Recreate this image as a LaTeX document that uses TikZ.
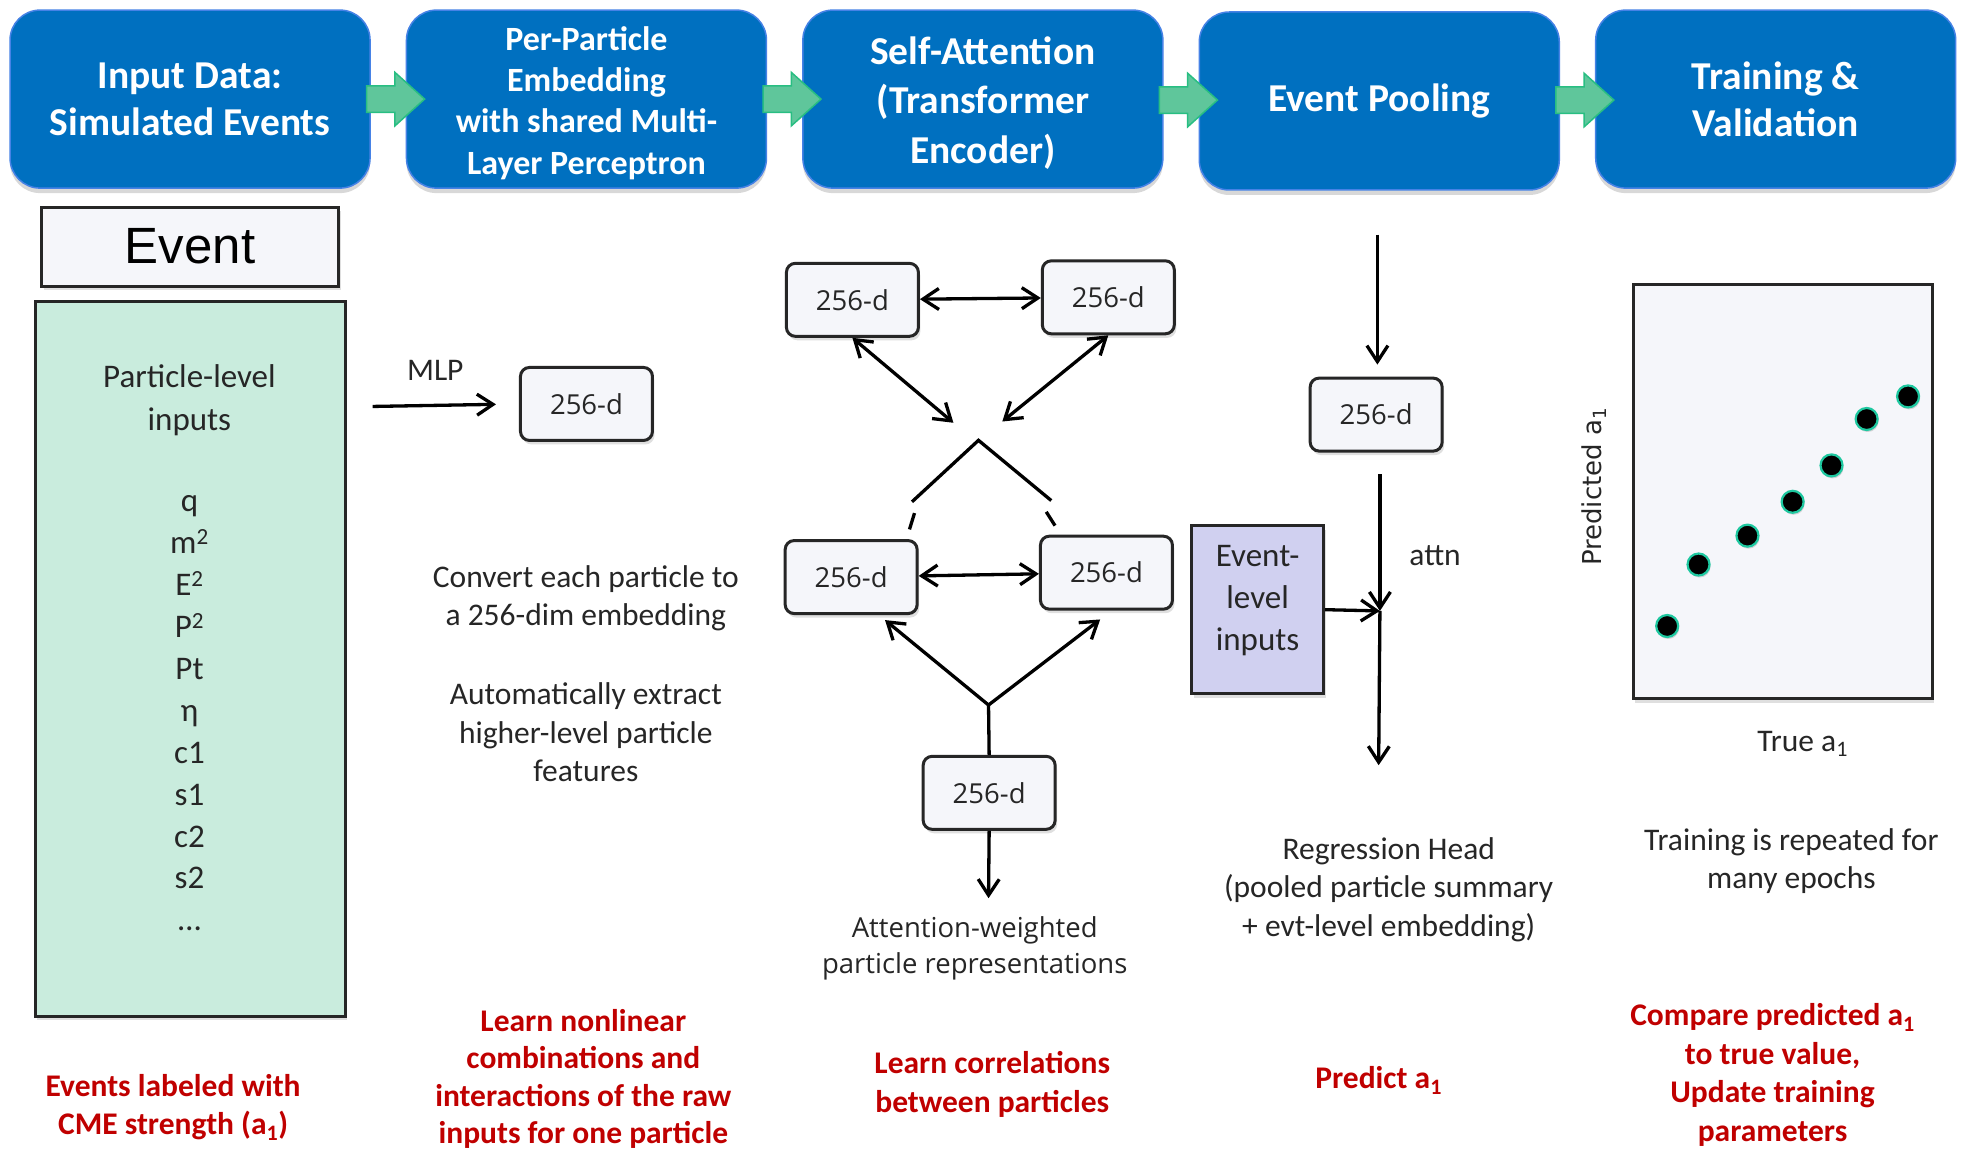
\documentclass[tikz,border=0pt]{standalone}
\usepackage{fontspec}
\setmainfont{Carlito}
\newfontfamily\boxfont{Open Sans}
\newfontfamily\arialfont{Liberation Sans}
\newfontfamily\axisfont{DejaVu Sans}
\usetikzlibrary{shadows,arrows.meta,shapes.arrows,calc}

\definecolor{hdrblue}{RGB}{0,112,192}
\definecolor{hdredge}{RGB}{70,130,230}
\definecolor{flowgreen}{RGB}{95,198,155}
\definecolor{flowedge}{RGB}{40,190,130}
\definecolor{mint}{RGB}{201,236,221}
\definecolor{paper}{RGB}{245,246,250}
\definecolor{lav}{RGB}{208,208,240}
\definecolor{redtxt}{RGB}{192,0,0}
\definecolor{txt}{RGB}{38,38,38}
\definecolor{dotedge}{RGB}{30,200,160}

\tikzset{
  hdrbox/.style={rectangle, rounded corners=30pt, fill=hdrblue, draw=hdredge,
    line width=1.5pt, minimum width=360pt, minimum height=178pt, text=white,
    align=center, font=\bfseries\fontsize{39.5}{47}\selectfont,
    drop shadow={opacity=0.3, shadow xshift=0pt, shadow yshift=-5pt}},
  hdrtext/.style={text=white, align=center},
  flow/.style={shape=single arrow, fill=flowgreen, draw=flowedge, line width=1.5pt,
    inner sep=0pt, inner ysep=12.5pt, minimum height=58pt,
    single arrow head extend=13.5pt, single arrow tip angle=84},
  papbox/.style={fill=paper, draw=black!85, line width=3pt,
    drop shadow={opacity=0.25, shadow xshift=2pt, shadow yshift=-4pt}},
  dimbox/.style={papbox, rounded corners=9pt, minimum width=132pt, minimum height=73pt,
    font=\boxfont\fontsize{27.5}{33}\selectfont, text=txt},
  body/.style={font=\fontsize{31.5}{38.5}\selectfont, text=txt, align=center},
  redlbl/.style={font=\bfseries\fontsize{31.5}{38.5}\selectfont, text=redtxt, align=center},
  plain/.style={line width=3.3pt},
  conn/.style={line width=3.3pt, -{Straight Barb[length=16pt,width=21pt]}},
  twoway/.style={line width=3.3pt, {Straight Barb[length=16pt,width=21pt]}-{Straight Barb[length=16pt,width=21pt]}},
  dot/.style={circle, fill=black, draw=dotedge, line width=2.2pt, minimum size=22pt, inner sep=0pt,
    drop shadow={opacity=0.3, shadow xshift=1pt, shadow yshift=-2pt}}
}

\begin{document}
\begin{tikzpicture}[x=1.2545pt, y=-1.2545pt]
\useasboundingbox (0,0) rectangle (1568,918);
\fill[white] (0,0) rectangle (1568,918);

% ---- pipeline stages ----
\node[hdrbox] (h1) at (151.5,79) {Input Data:\\Simulated Events};
\node[hdrbox] (h2) at (467.5,79) {};
\node[hdrtext, font=\bfseries\fontsize{34}{41.4}\selectfont] (h2txt) at (467.5,82)
  {Per-Particle\\Embedding\\with shared Multi-\\Layer Perceptron};
\node[hdrbox] (h3) at (783.5,79) {};
\node[hdrtext, font=\bfseries\fontsize{39.5}{49.5}\selectfont] (h3txt) at (783.5,82)
  {Self-Attention\\(Transformer\\Encoder)};
\node[hdrbox] (h4) at (1099.5,80.5) {Event Pooling};
\node[hdrbox] (h5) at (1415.5,79) {Training \&\\Validation};
\foreach \a/\b in {h1/h2,h2/h3,h3/h4,h4/h5}
  \node[flow] (f-\a) at ($(\a.east)!0.5!(\b.west)$) {};

% ---- column 1: input event ----
\node[papbox, minimum width=297pt, minimum height=79pt,
  font=\arialfont\fontsize{51}{60}\selectfont] (evhead) at (151.5,196.5) {Event};
\node[papbox, fill=mint, minimum width=310pt, minimum height=715pt] (inbox) at (151.5,525) {};
\node[body, font=\fontsize{33}{42.5}\selectfont] (inhead) at (151,319) {Particle-level\\inputs};
\foreach \t [count=\i] in {q, m\textsuperscript{2}, E\textsuperscript{2}, P\textsuperscript{2}, Pt, η, c1, s1, c2, s2, …}
  \node[body, font=\fontsize{33}{42}\selectfont, anchor=base] (var\i) at (151,408+33.4*\i-33.4) {\t};
\node[redlbl] (note1) at (138,882.5) {Events labeled with\\CME strength (a\textsubscript{1})};

% ---- column 2: per-particle embedding ----
\coordinate (mlpin) at (297,324);
\node[dimbox] (emb) at (467.5,322) {256-d};
\draw[conn, shorten >=23pt] (mlpin) -- (emb.west);
\node[body] (mlplbl) at (347,295) {MLP};
\node[body] (conv) at (467,477) {Convert each particle to\\a 256-dim embedding};
\node[body] (auto) at (467,584) {Automatically extract\\higher-level particle\\features};
\node[redlbl, font=\bfseries\fontsize{31.5}{37.6}\selectfont] (note2) at (465,860)
  {Learn nonlinear\\combinations and\\interactions of the raw\\inputs for one particle};

% ---- column 3: self-attention ----
\node[dimbox] (tl) at (679.5,239) {256-d};
\node[dimbox] (tr) at (883.5,237) {256-d};
\node[dimbox] (ml) at (678.5,460) {256-d};
\node[dimbox] (mr) at (882,456.5) {256-d};
\node[dimbox] (bt) at (788.5,632) {256-d};
\coordinate (cl) at (760,337);
\coordinate (cr) at (799,336);
\coordinate (pk) at (780,351);
\coordinate (pl) at (727,400);
\coordinate (pr) at (838,399);
\coordinate (dl1) at (729,409);
\coordinate (dl2) at (725,422);
\coordinate (dr1) at (834,408);
\coordinate (dr2) at (841,419);
\coordinate (vt) at (788,562);
\coordinate (attnout) at (788,716);
\draw[twoway] (tl) -- (tr);
\draw[twoway] (ml) -- (mr);
\draw[twoway] (tl.south) -- (cl);
\draw[twoway] (tr.south) -- (cr);
\draw[plain] (pl) -- (pk) -- (pr);
\draw[plain] (dl1) -- (dl2);
\draw[plain] (dr1) -- (dr2);
\draw[conn] (vt) -- ($(ml.south)+(27,4)$);
\draw[conn] (vt) -- ($(mr.south)+(-5,7)$);
\draw[plain] (vt) -- (bt.north);
\draw[conn] (bt.south) -- (attnout);
\node[body, font=\boxfont\fontsize{27.5}{36.4}\selectfont] (attnlbl) at (777,756)
  {Attention-weighted\\particle representations};
\node[redlbl] (note3) at (791,864.5) {Learn correlations\\between particles};

% ---- column 4: event pooling ----
\coordinate (ptop) at (1098,187);
\node[dimbox] (pool) at (1097,330.5) {256-d};
\coordinate (pbelow) at (1100,378);
\coordinate (pjoin) at (1100,487);
\coordinate (pend) at (1099,610);
\draw[conn, shorten >=12pt] (ptop) -- (ptop |- pool.north);
\draw[conn] (pbelow) -- (pjoin);
\draw[conn] (pjoin) -- (pend);
\node[papbox, fill=lav, minimum width=132pt, minimum height=168pt] (evt) at (1002.5,486) {};
\node[body, font=\fontsize{33}{42}\selectfont] (evtlbl) at (1002.5,478.5) {Event-\\level\\inputs};
\draw[conn] (evt.east) -- (pjoin);
\node[body] (attn) at (1144,443) {attn};
\node[body] (regr) at (1107,709) {Regression Head\\(pooled particle summary\\+ evt-level embedding)};
\node[redlbl] (note4) at (1099,861) {Predict a\textsubscript{1}};

% ---- column 5: training ----
\node[papbox, minimum width=299pt, minimum height=414pt] (plot) at (1421,392) {};
\foreach \px/\py [count=\k] in {1329/499, 1354/450, 1393/427, 1429/400, 1460/371, 1488/334, 1521/316}
  \node[dot] (pt\k) at (\px,\py) {};
\node[rotate=90, font=\axisfont\fontsize{26}{30}\selectfont, text=txt] (ylab) at (1271,388) {Predicted a\textsubscript{1}};
\node[body] (xlab) at (1437,593) {True a\textsubscript{1}};
\node[body] (epochs) at (1428,686.5) {Training is repeated for\\many epochs};
\node[redlbl] (note5) at (1413,857) {Compare predicted a\textsubscript{1}\\to true value,\\Update training\\parameters};
\end{tikzpicture}
\end{document}
